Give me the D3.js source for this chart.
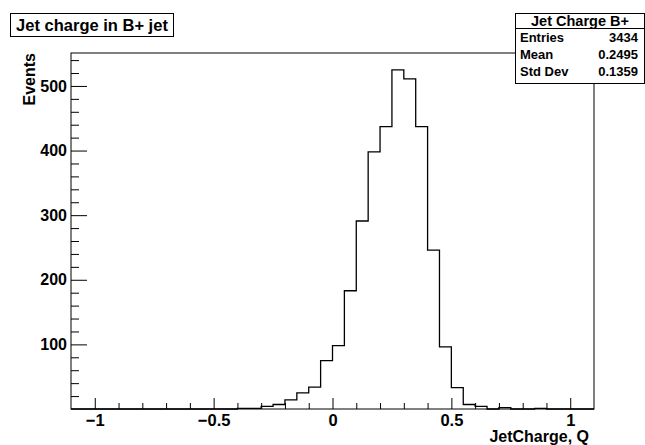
<!DOCTYPE html>
<html>
<head>
<meta charset="utf-8">
<script src="https://cdn.jsdelivr.net/npm/d3@7"></script>
<style>
  html, body { margin: 0; padding: 0; background: #fff; }
  svg { display: block; font-family: "Liberation Sans", Arial, Helvetica, sans-serif; font-weight: bold; }
</style>
</head>
<body>
<svg id="chart" width="645" height="445"></svg>
<script>
// ---- data ----
const binLowEdges = [-0.40, -0.35, -0.30, -0.25, -0.20, -0.15, -0.10, -0.05,
                      0.00,  0.05,  0.10,  0.15,  0.20,  0.25,  0.30,  0.35,
                      0.40,  0.45,  0.50,  0.55,  0.60,  0.65,  0.70,  0.75,
                      0.80,  0.85];
const binCounts   = [1, 1, 4, 7, 14, 25, 34, 75,
                     98, 183, 291, 398, 437, 525, 511, 437,
                     246, 96, 33, 7, 4, 0, 2, 0,
                     0, 1];
const binWidth = 0.05;
const xTickValues = [-1, -0.5, 0, 0.5, 1];
const xTickLabels = ["\u22121", "\u22120.5", "0", "0.5", "1"];
const yTickValues = [100, 200, 300, 400, 500];
const yTickLabels = ["100", "200", "300", "400", "500"];
const xMinorValues = [-0.9,-0.8,-0.7,-0.6,-0.4,-0.3,-0.2,-0.1,0.1,0.2,0.3,0.4,0.6,0.7,0.8,0.9];
const yMinorValues = [20,40,60,80,120,140,160,180,220,240,260,280,320,340,360,380,420,440,460,480,520,540];
const titleText = "Jet charge in B+ jet";
const statsTitle = "Jet Charge B+";
const statsNames = ["Entries", "Mean", "Std Dev"];
const statsValues = ["3434", "0.2495", "0.1359"];
const xAxisTitle = "JetCharge, Q";
const yAxisTitle = "Events";

// ---- layout ----
const svg = d3.select("#chart");
const L = 71, R = 594, T = 53, B = 409;
const x = d3.scaleLinear().domain([-1.1, 1.1]).range([L, R]);
const y = d3.scaleLinear().domain([0, 551]).range([B, T]);
const FONT = "'Liberation Sans', Arial, sans-serif";

// frame
svg.append("rect").attr("x", L).attr("y", T).attr("width", R - L).attr("height", B - T)
  .attr("fill", "none").attr("stroke", "#000").attr("stroke-width", 1);

// histogram step path
let d = "M" + x(-1.1) + "," + y(0) + "L" + x(binLowEdges[0]) + "," + y(0);
binLowEdges.forEach((lo, i) => {
  d += "L" + x(lo) + "," + y(binCounts[i]) + "L" + x(lo + binWidth) + "," + y(binCounts[i]);
});
d += "L" + x(binLowEdges[binLowEdges.length - 1] + binWidth) + "," + y(0) + "L" + x(1.1) + "," + y(0);
svg.append("path").attr("d", d).attr("fill", "none").attr("stroke", "#000").attr("stroke-width", 1.3);

// x axis ticks
const gx = svg.append("g").attr("transform", `translate(0,${B})`);
gx.call(d3.axisBottom(x).tickValues(xTickValues).tickSize(-11)
  .tickFormat((v, i) => xTickLabels[i]).tickPadding(5));
gx.selectAll(".domain").remove();
gx.selectAll("line").attr("stroke", "#000");
gx.selectAll("text").attr("font-size", 16.5).attr("font-weight", "bold").attr("fill", "#000")
  .attr("font-family", FONT);
const gxm = svg.append("g").attr("transform", `translate(0,${B})`);
gxm.call(d3.axisBottom(x).tickValues(xMinorValues).tickSize(-6).tickFormat(""));
gxm.selectAll(".domain").remove();
gxm.selectAll("line").attr("stroke", "#000");

// y axis ticks
const gy = svg.append("g").attr("transform", `translate(${L},0)`);
gy.call(d3.axisLeft(y).tickValues(yTickValues).tickSize(-16)
  .tickFormat((v, i) => yTickLabels[i]).tickPadding(4));
gy.selectAll(".domain").remove();
gy.selectAll("line").attr("stroke", "#000");
gy.selectAll("text").attr("font-size", 16).attr("font-weight", "bold").attr("fill", "#000")
  .attr("font-family", FONT);
const gym = svg.append("g").attr("transform", `translate(${L},0)`);
gym.call(d3.axisLeft(y).tickValues(yMinorValues).tickSize(-8).tickFormat(""));
gym.selectAll(".domain").remove();
gym.selectAll("line").attr("stroke", "#000");

// axis titles
svg.append("text").attr("x", 589).attr("y", 442).attr("text-anchor", "end")
  .attr("font-size", 16).text(xAxisTitle);
svg.append("text").attr("transform", `translate(35,53) rotate(-90)`).attr("text-anchor", "end")
  .attr("font-size", 16).text(yAxisTitle);

// title box
svg.append("rect").attr("x", 10.5).attr("y", 13.5).attr("width", 163).attr("height", 23)
  .attr("fill", "#fff").attr("stroke", "#000");
svg.append("text").attr("x", 92).attr("y", 31).attr("text-anchor", "middle")
  .attr("font-size", 16.5).text(titleText);

// stats box
const sx0 = 515.5, sx1 = 644.5, sy0 = 13.5, sy1 = 83.5;
svg.append("rect").attr("x", sx0).attr("y", sy0).attr("width", sx1 - sx0).attr("height", sy1 - sy0)
  .attr("fill", "#fff").attr("stroke", "#000");
svg.append("line").attr("x1", sx0).attr("x2", sx1).attr("y1", 28.5).attr("y2", 28.5).attr("stroke", "#000");
svg.append("text").attr("x", (sx0 + sx1) / 2).attr("y", 25.5).attr("text-anchor", "middle")
  .attr("font-size", 14.5).text(statsTitle);
const rowY = [42, 59, 76];
statsNames.forEach((n, i) => {
  svg.append("text").attr("x", 520).attr("y", rowY[i]).attr("font-size", 13).text(n);
  svg.append("text").attr("x", 638).attr("y", rowY[i]).attr("text-anchor", "end").attr("font-size", 13).text(statsValues[i]);
});
</script>
</body>
</html>
